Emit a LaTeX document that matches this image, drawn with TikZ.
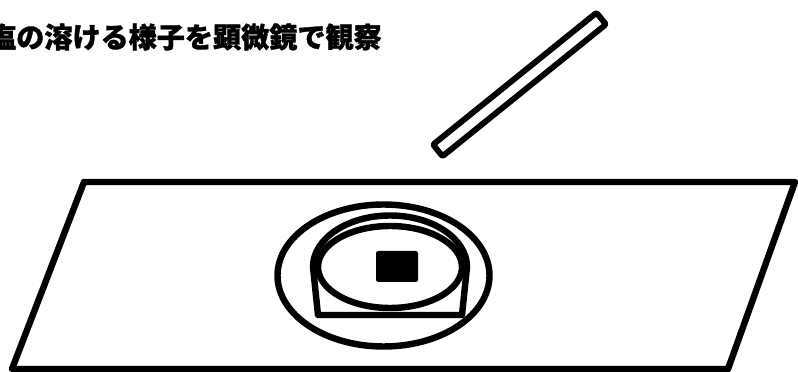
\documentclass[tikz,border=0pt]{standalone}
\usepackage{fontspec}
\newfontfamily\cjk{Noto Sans CJK JP}[BoldFeatures={FakeBold=1.2}]
\begin{document}
\begin{tikzpicture}[x=0.03cm, y=0.03cm, line join=round, line cap=round, line width=5.5pt]
	\useasboundingbox (0,0) rectangle (798,-372);
	% tieu de
	\node[anchor=east, inner sep=0pt, font=\cjk\bfseries\fontsize{24}{24}\selectfont] (title) at (385,-37) {塩の溶ける様子を顕微鏡で観察};
	% que thuy tinh
	\node[draw, rectangle, rounded corners=1pt, minimum width=6.3cm, minimum height=0.45cm, inner sep=0pt, rotate=38.9, line width=5pt] (rod) at (519.5,-84.5) {};
	% tam kinh
	\draw (84,-182) -- (795,-182) -- (728,-369) -- (12,-369) -- cycle;
	% dia
	\draw (383.5,-275.5) ellipse [x radius=106, y radius=71];
	\draw (318,-315) -- (313,-267) arc[start angle=180, end angle=0, x radius=77, y radius=51.5] -- (462,-315) -- cycle;
	\draw[fill=white] (390,-267) ellipse [x radius=72, y radius=41];
	\fill[rounded corners=2pt] (376,-251) rectangle (418,-282);
\end{tikzpicture}
\end{document}
